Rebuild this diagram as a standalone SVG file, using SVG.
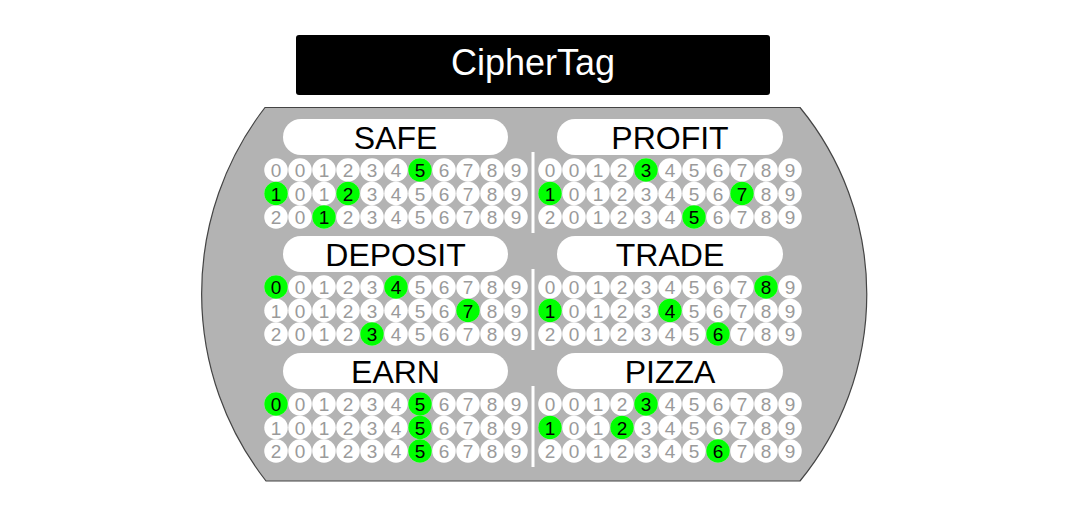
<svg xmlns="http://www.w3.org/2000/svg" xmlns:xlink="http://www.w3.org/1999/xlink" width="1070" height="512" viewBox="0 0 1070 512">
<style>
.dg{font-family:"Liberation Sans",Arial,sans-serif;font-size:19px;fill:#9a9a9a;text-anchor:middle}
.dg .on{fill:#000}
.lbl{font-family:"Liberation Sans",Arial,sans-serif;font-size:32px;fill:#000;text-anchor:middle}
.pill{fill:#fff}
.on-c{fill:#00ff00}
.div{stroke:#fff;stroke-width:3}
</style>
<defs>
<g id="row" fill="#fff">
<circle cx="0" cy="0" r="11.75"/><circle cx="24" cy="0" r="11.75"/><circle cx="48" cy="0" r="11.75"/><circle cx="72" cy="0" r="11.75"/><circle cx="96" cy="0" r="11.75"/><circle cx="120" cy="0" r="11.75"/><circle cx="144" cy="0" r="11.75"/><circle cx="168" cy="0" r="11.75"/><circle cx="192" cy="0" r="11.75"/><circle cx="216" cy="0" r="11.75"/><circle cx="240" cy="0" r="11.75"/>
</g>
</defs>
<rect width="1070" height="512" fill="#fff"/>
<g id="title">
<rect x="296" y="35" width="474" height="60" rx="3" fill="#000"/>
<text x="533" y="75" font-family="'Liberation Sans',Arial,sans-serif" font-size="36" fill="#fff" text-anchor="middle">CipherTag</text>
</g>
<g id="body">
<path d="M265,107.5 L800,107.5 A294.5,294.5 0 0 1 800,481 L266,481 A305,305 0 0 1 265,107.5 Z" fill="#b3b3b3" stroke="#444" stroke-width="1.2"/>
</g>
<g id="dividers">
<line class="div" x1="533" y1="152" x2="533" y2="233"/>
<line class="div" x1="533" y1="269" x2="533" y2="350"/>
<line class="div" x1="533" y1="386" x2="533" y2="467"/>
</g>
<g id="safe">
<rect class="pill" x="283" y="119" width="225" height="36" rx="18"/>
<text class="lbl" x="395.5" y="148.5">SAFE</text>
<use xlink:href="#row" x="276" y="170"/><use xlink:href="#row" x="276" y="193.5"/><use xlink:href="#row" x="276" y="217"/>
<circle class="on-c" cx="420" cy="170" r="11.75"/><circle class="on-c" cx="276" cy="193.5" r="11.75"/><circle class="on-c" cx="348" cy="193.5" r="11.75"/><circle class="on-c" cx="324" cy="217" r="11.75"/>
<text class="dg" x="276 300 324 348 372 396 420 444 468 492 516" y="177">001234<tspan class="on">5</tspan>6789</text>
<text class="dg" x="276 300 324 348 372 396 420 444 468 492 516" y="200.5"><tspan class="on">1</tspan>01<tspan class="on">2</tspan>3456789</text>
<text class="dg" x="276 300 324 348 372 396 420 444 468 492 516" y="224">20<tspan class="on">1</tspan>23456789</text>
</g>
<g id="profit">
<rect class="pill" x="557" y="119" width="226" height="36" rx="18"/>
<text class="lbl" x="670" y="148.5">PROFIT</text>
<use xlink:href="#row" x="550" y="170"/><use xlink:href="#row" x="550" y="193.5"/><use xlink:href="#row" x="550" y="217"/>
<circle class="on-c" cx="646" cy="170" r="11.75"/><circle class="on-c" cx="550" cy="193.5" r="11.75"/><circle class="on-c" cx="742" cy="193.5" r="11.75"/><circle class="on-c" cx="694" cy="217" r="11.75"/>
<text class="dg" x="550 574 598 622 646 670 694 718 742 766 790" y="177">0012<tspan class="on">3</tspan>456789</text>
<text class="dg" x="550 574 598 622 646 670 694 718 742 766 790" y="200.5"><tspan class="on">1</tspan>0123456<tspan class="on">7</tspan>89</text>
<text class="dg" x="550 574 598 622 646 670 694 718 742 766 790" y="224">201234<tspan class="on">5</tspan>6789</text>
</g>
<g id="deposit">
<rect class="pill" x="283" y="236" width="225" height="36" rx="18"/>
<text class="lbl" x="395.5" y="265.5">DEPOSIT</text>
<use xlink:href="#row" x="276" y="287"/><use xlink:href="#row" x="276" y="310.5"/><use xlink:href="#row" x="276" y="334"/>
<circle class="on-c" cx="276" cy="287" r="11.75"/><circle class="on-c" cx="396" cy="287" r="11.75"/><circle class="on-c" cx="468" cy="310.5" r="11.75"/><circle class="on-c" cx="372" cy="334" r="11.75"/>
<text class="dg" x="276 300 324 348 372 396 420 444 468 492 516" y="294"><tspan class="on">0</tspan>0123<tspan class="on">4</tspan>56789</text>
<text class="dg" x="276 300 324 348 372 396 420 444 468 492 516" y="317.5">10123456<tspan class="on">7</tspan>89</text>
<text class="dg" x="276 300 324 348 372 396 420 444 468 492 516" y="341">2012<tspan class="on">3</tspan>456789</text>
</g>
<g id="trade">
<rect class="pill" x="557" y="236" width="226" height="36" rx="18"/>
<text class="lbl" x="670" y="265.5">TRADE</text>
<use xlink:href="#row" x="550" y="287"/><use xlink:href="#row" x="550" y="310.5"/><use xlink:href="#row" x="550" y="334"/>
<circle class="on-c" cx="766" cy="287" r="11.75"/><circle class="on-c" cx="550" cy="310.5" r="11.75"/><circle class="on-c" cx="670" cy="310.5" r="11.75"/><circle class="on-c" cx="718" cy="334" r="11.75"/>
<text class="dg" x="550 574 598 622 646 670 694 718 742 766 790" y="294">001234567<tspan class="on">8</tspan>9</text>
<text class="dg" x="550 574 598 622 646 670 694 718 742 766 790" y="317.5"><tspan class="on">1</tspan>0123<tspan class="on">4</tspan>56789</text>
<text class="dg" x="550 574 598 622 646 670 694 718 742 766 790" y="341">2012345<tspan class="on">6</tspan>789</text>
</g>
<g id="earn">
<rect class="pill" x="283" y="353" width="225" height="36" rx="18"/>
<text class="lbl" x="395.5" y="382.5">EARN</text>
<use xlink:href="#row" x="276" y="404"/><use xlink:href="#row" x="276" y="427.5"/><use xlink:href="#row" x="276" y="451"/>
<circle class="on-c" cx="276" cy="404" r="11.75"/><circle class="on-c" cx="420" cy="404" r="11.75"/><circle class="on-c" cx="420" cy="427.5" r="11.75"/><circle class="on-c" cx="420" cy="451" r="11.75"/>
<text class="dg" x="276 300 324 348 372 396 420 444 468 492 516" y="411"><tspan class="on">0</tspan>01234<tspan class="on">5</tspan>6789</text>
<text class="dg" x="276 300 324 348 372 396 420 444 468 492 516" y="434.5">101234<tspan class="on">5</tspan>6789</text>
<text class="dg" x="276 300 324 348 372 396 420 444 468 492 516" y="458">201234<tspan class="on">5</tspan>6789</text>
</g>
<g id="pizza">
<rect class="pill" x="557" y="353" width="226" height="36" rx="18"/>
<text class="lbl" x="670" y="382.5">PIZZA</text>
<use xlink:href="#row" x="550" y="404"/><use xlink:href="#row" x="550" y="427.5"/><use xlink:href="#row" x="550" y="451"/>
<circle class="on-c" cx="646" cy="404" r="11.75"/><circle class="on-c" cx="550" cy="427.5" r="11.75"/><circle class="on-c" cx="622" cy="427.5" r="11.75"/><circle class="on-c" cx="718" cy="451" r="11.75"/>
<text class="dg" x="550 574 598 622 646 670 694 718 742 766 790" y="411">0012<tspan class="on">3</tspan>456789</text>
<text class="dg" x="550 574 598 622 646 670 694 718 742 766 790" y="434.5"><tspan class="on">1</tspan>01<tspan class="on">2</tspan>3456789</text>
<text class="dg" x="550 574 598 622 646 670 694 718 742 766 790" y="458">2012345<tspan class="on">6</tspan>789</text>
</g>
</svg>
